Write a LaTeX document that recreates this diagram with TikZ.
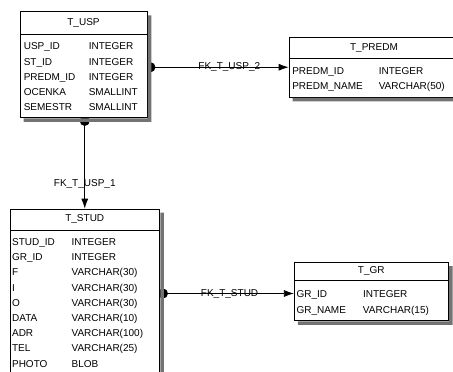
\documentclass[tikz,border=0pt]{standalone}
\usepackage{fontspec}
\setmainfont{Liberation Sans}
\usetikzlibrary{arrows.meta, positioning, calc}
\pgfdeclarelayer{background}
\pgfsetlayers{background,main}

\begin{document}
\begin{tikzpicture}[
    x=1pt, y=-1pt,
    >=Latex,
    tbl/.style={draw, fill=white, line width=0.8pt, inner sep=0pt},
    shd/.style={fill=black!55},
    ttl/.style={draw, line width=0.8pt, inner sep=0pt, anchor=north, font=\fontsize{10}{12}\selectfont},
    cols/.style={inner sep=0pt, anchor=north west, font=\fontsize{10}{15.2}\selectfont},
    fk/.style={line width=0.8pt, {Circle[length=10pt]}-{Latex[length=10pt,width=7pt]}, shorten <=-2pt},
    fklbl/.style={inner sep=0pt, font=\fontsize{10}{12}\selectfont}
]
\useasboundingbox (0,0) rectangle (453,372);
\clip (0,0) rectangle (453,372);

% Tables
\node[tbl, minimum width=127pt, minimum height=105.8pt] (usp) at (83.5,64.6) {};
\node[ttl, minimum width=127pt, minimum height=22.6pt] (usp-t) at (usp.north) {T\_USP};
\node[cols] (usp-r) at ($(usp.north west)+(4,27.8)$) {%
  \begin{tabular}{@{}p{65pt}@{}l@{}}
  USP\_ID & INTEGER\\
  ST\_ID & INTEGER\\
  PREDM\_ID & INTEGER\\
  OCENKA & SMALLINT\\
  SEMESTR & SMALLINT
  \end{tabular}};

\node[tbl, minimum width=170pt, minimum height=59.5pt] (predm) at (374,67.25) {};
\node[ttl, minimum width=170pt, minimum height=20.5pt] (predm-t) at (predm.north) {T\_PREDM};
\node[cols] (predm-r) at ($(predm.north west)+(3.5,26.5)$) {%
  \begin{tabular}{@{}p{86.5pt}@{}l@{}}
  PREDM\_ID & INTEGER\\
  PREDM\_NAME & VARCHAR(50)
  \end{tabular}};

\node[tbl, minimum width=149.5pt, minimum height=176pt] (stud) at (84.75,297) {};
\node[ttl, minimum width=149.5pt, minimum height=21pt] (stud-t) at (stud.north) {T\_STUD};
\node[cols] (stud-r) at ($(stud.north west)+(2.3,26)$) {%
  \begin{tabular}{@{}p{59.5pt}@{}l@{}}
  STUD\_ID & INTEGER\\
  GR\_ID & INTEGER\\
  F & VARCHAR(30)\\
  I & VARCHAR(30)\\
  O & VARCHAR(30)\\
  DATA & VARCHAR(10)\\
  ADR & VARCHAR(100)\\
  TEL & VARCHAR(25)\\
  PHOTO & BLOB
  \end{tabular}};

\node[tbl, minimum width=154pt, minimum height=58pt] (gr) at (371.3,291.5) {};
\node[ttl, minimum width=154pt, minimum height=17.5pt] (gr-t) at (gr.north) {T\_GR};
\node[cols] (gr-r) at ($(gr.north west)+(2.4,25)$) {%
  \begin{tabular}{@{}p{66.5pt}@{}l@{}}
  GR\_ID & INTEGER\\
  GR\_NAME & VARCHAR(15)
  \end{tabular}};

% Shadows (right and bottom strips)
\foreach \tb in {usp, predm, stud, gr}
  \fill[shd] ($(\tb.north east)+(0.4,4)$) -- ($(\tb.north east)+(4,4)$)
    -- ($(\tb.south east)+(4,4)$) -- ($(\tb.south west)+(4,4)$)
    -- ($(\tb.south west)+(4,0.4)$) -- ($(\tb.south east)+(0.4,0.4)$) -- cycle;

% Foreign keys
\begin{pgfonlayer}{background}
\draw[fk] (usp.east |- predm.west) -- node[fklbl, pos=0.58] {FK\_T\_USP\_2} (predm.west);
\draw[fk] (usp.south -| stud.north) -- node[fklbl, pos=0.725] {FK\_T\_USP\_1} (stud.north);
\draw[fk] ($(stud.east |- gr.west)+(0,2)$) -- node[fklbl, pos=0.52] {FK\_T\_STUD} ($(gr.west)+(0,2)$);
\end{pgfonlayer}

\end{tikzpicture}
\end{document}
